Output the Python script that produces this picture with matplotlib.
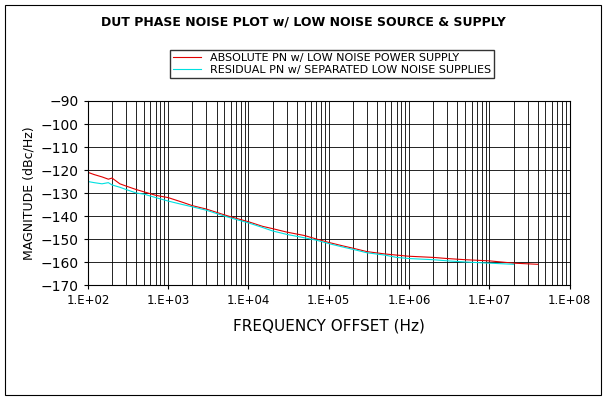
import matplotlib
matplotlib.use("Agg")
import matplotlib.pyplot as plt
import numpy as np
from matplotlib.patches import Rectangle

# data
freq_abs = [100, 120, 150, 180, 200, 250, 300, 400, 500, 700, 1e3, 1.5e3, 2e3, 3e3, 5e3, 7e3,
            1e4, 1.5e4, 2e4, 3e4, 5e4, 7e4, 1e5, 1.5e5, 2e5, 3e5, 5e5, 7e5, 1e6, 2e6, 3e6,
            5e6, 1e7, 2e7, 4e7]
pn_abs = [-121, -122, -123, -124, -123.5, -126, -127, -128.5, -129.5, -131, -132, -134, -135.5,
          -137, -139.5, -141, -142.5, -144.5, -145.5, -147, -148.5, -150, -151.5, -153, -154,
          -155.5, -156.5, -157, -157.5, -158, -158.5, -159, -159.5, -160.5, -161]
freq_res = [100, 120, 150, 180, 200, 250, 300, 400, 500, 700, 1e3, 1.5e3, 2e3, 3e3, 5e3, 7e3,
            1e4, 1.5e4, 2e4, 3e4, 5e4, 7e4, 1e5, 1.5e5, 2e5, 3e5, 5e5, 7e5, 1e6, 2e6, 3e6,
            5e6, 1e7, 2e7]
pn_res = [-125, -125.5, -126, -125.5, -126.5, -127.5, -128.5, -130, -130.5, -132, -133.5, -135,
          -136, -137.5, -140, -141.5, -143, -145, -146.5, -148, -149.5, -150.5, -152, -153.5,
          -154.5, -156, -157, -158, -158.5, -159, -159.5, -160, -160.5, -161]

fig = plt.figure(figsize=(6.06, 4.0), dpi=100)
fig.patches.append(Rectangle((0.008, 0.012), 0.984, 0.976, transform=fig.transFigure,
                             fill=False, edgecolor='black', linewidth=0.8))
ax = fig.add_axes([0.145, 0.2875, 0.795, 0.46])

ax.plot(freq_abs, pn_abs, color='#e00000', linewidth=0.8,
        label='ABSOLUTE PN w/ LOW NOISE POWER SUPPLY')
ax.plot(freq_res, pn_res, color='#00e0e0', linewidth=0.8,
        label='RESIDUAL PN w/ SEPARATED LOW NOISE SUPPLIES')

ax.set_xscale('log')
ax.set_xlim(1e2, 1e8)
ax.set_ylim(-170, -90)
ax.set_yticks(np.arange(-170, -89, 10))
ax.set_xticks([1e2, 1e3, 1e4, 1e5, 1e6, 1e7, 1e8])
ax.set_xticklabels(['1.E+02', '1.E+03', '1.E+04', '1.E+05', '1.E+06', '1.E+07', '1.E+08'])
ax.grid(True, which='both', color='black', linewidth=0.6)
ax.tick_params(axis='both', labelsize=8.5, direction='out', length=3)
ax.tick_params(axis='y', labelsize=10)
ax.tick_params(which='minor', length=0)
for s in ax.spines.values():
    s.set_linewidth(0.8)

ax.set_xlabel('FREQUENCY OFFSET (Hz)', fontsize=11, labelpad=8)
ax.set_ylabel('MAGNITUDE (dBc/Hz)', fontsize=9)
fig.text(0.5, 0.945, 'DUT PHASE NOISE PLOT w/ LOW NOISE SOURCE & SUPPLY',
         ha='center', va='center', fontsize=9, fontweight='bold')
fig.legend(loc='center', bbox_to_anchor=(0.548, 0.84), fontsize=8, frameon=True,
           fancybox=False, edgecolor='black', handlelength=2.5, borderpad=0.3,
           labelspacing=0.2)

fig.savefig('out.png', dpi=100)
